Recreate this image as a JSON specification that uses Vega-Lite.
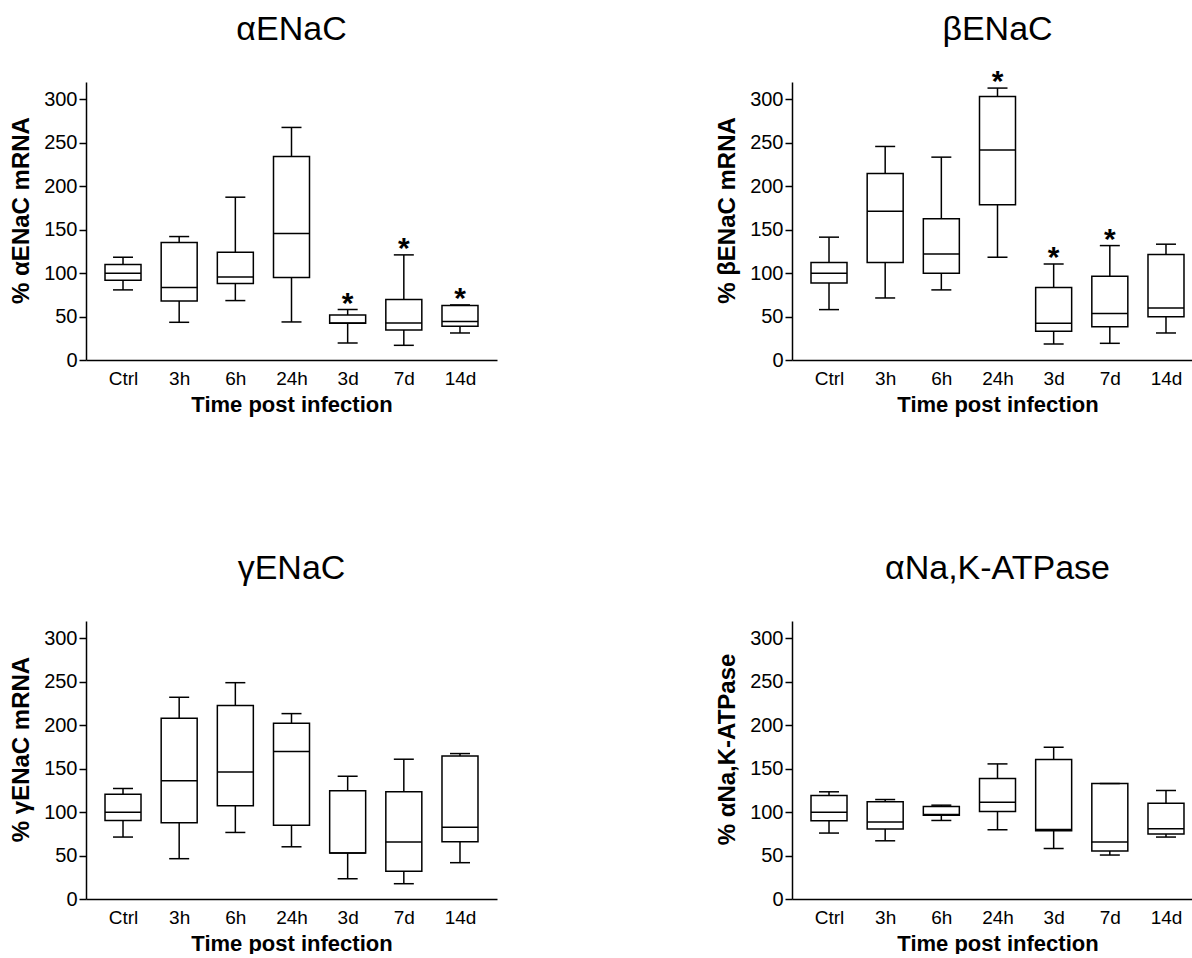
{
  "$schema": "https://vega.github.io/schema/vega-lite/v6.json",
  "padding": {"left": 9, "top": 13, "right": 0, "bottom": 0},
  "background": "white",
  "data": {"values": [
    {"panel": "a", "time": "Ctrl", "min": 80.7, "q1": 91.8, "median": 99.9, "q3": 109.9, "max": 118.3, "sig": ""},
    {"panel": "a", "time": "3h", "min": 43.4, "q1": 68.0, "median": 83.4, "q3": 135.2, "max": 142.1, "sig": ""},
    {"panel": "a", "time": "6h", "min": 68.4, "q1": 88.0, "median": 95.6, "q3": 124.1, "max": 187.4, "sig": ""},
    {"panel": "a", "time": "24h", "min": 43.8, "q1": 94.9, "median": 145.6, "q3": 234.3, "max": 267.7, "sig": ""},
    {"panel": "a", "time": "3d", "min": 19.6, "q1": 42.3, "median": 42.6, "q3": 51.9, "max": 58.0, "sig": "*"},
    {"panel": "a", "time": "7d", "min": 16.9, "q1": 34.6, "median": 42.6, "q3": 69.5, "max": 121.0, "sig": "*"},
    {"panel": "a", "time": "14d", "min": 31.1, "q1": 38.8, "median": 44.2, "q3": 62.6, "max": 63.4, "sig": "*"},
    {"panel": "b", "time": "Ctrl", "min": 58.0, "q1": 88.7, "median": 99.9, "q3": 112.2, "max": 141.4, "sig": ""},
    {"panel": "b", "time": "3h", "min": 71.4, "q1": 112.2, "median": 171.3, "q3": 214.7, "max": 245.8, "sig": ""},
    {"panel": "b", "time": "6h", "min": 80.7, "q1": 99.9, "median": 122.1, "q3": 162.5, "max": 233.5, "sig": ""},
    {"panel": "b", "time": "24h", "min": 118.3, "q1": 178.6, "median": 241.6, "q3": 303.4, "max": 313.0, "sig": "*"},
    {"panel": "b", "time": "3d", "min": 18.4, "q1": 33.0, "median": 42.3, "q3": 83.4, "max": 110.6, "sig": "*"},
    {"panel": "b", "time": "7d", "min": 19.2, "q1": 38.4, "median": 53.4, "q3": 96.4, "max": 131.7, "sig": "*"},
    {"panel": "b", "time": "14d", "min": 31.1, "q1": 49.9, "median": 59.9, "q3": 121.4, "max": 133.3, "sig": ""},
    {"panel": "g", "time": "Ctrl", "min": 71.3, "q1": 90.4, "median": 100.0, "q3": 120.7, "max": 127.2, "sig": ""},
    {"panel": "g", "time": "3h", "min": 46.4, "q1": 87.7, "median": 136.0, "q3": 208.0, "max": 232.2, "sig": ""},
    {"panel": "g", "time": "6h", "min": 76.6, "q1": 107.3, "median": 146.3, "q3": 222.6, "max": 249.0, "sig": ""},
    {"panel": "g", "time": "24h", "min": 60.1, "q1": 85.0, "median": 169.7, "q3": 202.3, "max": 213.4, "sig": ""},
    {"panel": "g", "time": "3d", "min": 23.4, "q1": 52.9, "median": 52.9, "q3": 124.5, "max": 141.4, "sig": ""},
    {"panel": "g", "time": "7d", "min": 17.6, "q1": 31.8, "median": 65.5, "q3": 123.4, "max": 160.9, "sig": ""},
    {"panel": "g", "time": "14d", "min": 41.8, "q1": 65.9, "median": 82.7, "q3": 164.7, "max": 167.4, "sig": ""},
    {"panel": "n", "time": "Ctrl", "min": 75.9, "q1": 90.0, "median": 100.0, "q3": 119.1, "max": 123.4, "sig": ""},
    {"panel": "n", "time": "3h", "min": 67.0, "q1": 80.5, "median": 88.5, "q3": 111.9, "max": 114.5, "sig": ""},
    {"panel": "n", "time": "6h", "min": 90.4, "q1": 96.5, "median": 97.3, "q3": 106.5, "max": 108.0, "sig": ""},
    {"panel": "n", "time": "24h", "min": 79.7, "q1": 100.8, "median": 111.5, "q3": 138.7, "max": 155.5, "sig": ""},
    {"panel": "n", "time": "3d", "min": 58.2, "q1": 78.5, "median": 80.1, "q3": 160.5, "max": 174.7, "sig": ""},
    {"panel": "n", "time": "7d", "min": 50.6, "q1": 55.2, "median": 65.5, "q3": 132.9, "max": 132.9, "sig": ""},
    {"panel": "n", "time": "14d", "min": 71.3, "q1": 74.7, "median": 80.8, "q3": 110.3, "max": 124.9, "sig": ""}
  ]},
  "columns": 2,
  "spacing": {"column": 218, "row": 137},
  "concat": [
    {
      "width": 411, "height": 278,
      "title": {"text": "αENaC"},
      "transform": [{"filter": "datum.panel === 'a'"}],
      "encoding": {"x": {"field": "time", "type": "nominal", "sort": ["Ctrl", "3h", "6h", "24h", "3d", "7d", "14d"], "scale": {"type": "point", "padding": 0.659}, "title": "Time post infection"}},
      "layer": [
        {"mark": {"type": "rule", "color": "black", "strokeWidth": 1.5}, "encoding": {"y": {"field": "min", "type": "quantitative", "scale": {"domain": [0, 320], "nice": false}, "axis": {"values": [0, 50, 100, 150, 200, 250, 300]}, "title": "% αENaC mRNA"}, "y2": {"field": "max"}}},
        {"mark": {"type": "bar", "size": 36, "fill": "white", "stroke": "black", "strokeWidth": 1.5}, "encoding": {"y": {"field": "q1", "type": "quantitative", "title": "% αENaC mRNA"}, "y2": {"field": "q3"}}},
        {"mark": {"type": "tick", "size": 36, "thickness": 1.5, "color": "black", "opacity": 1}, "encoding": {"y": {"field": "median", "type": "quantitative", "title": "% αENaC mRNA"}}},
        {"mark": {"type": "tick", "size": 20, "thickness": 1.5, "color": "black", "opacity": 1}, "encoding": {"y": {"field": "min", "type": "quantitative", "title": "% αENaC mRNA"}}},
        {"mark": {"type": "tick", "size": 20, "thickness": 1.5, "color": "black", "opacity": 1}, "encoding": {"y": {"field": "max", "type": "quantitative", "title": "% αENaC mRNA"}}},
        {"mark": {"type": "text", "fontSize": 30, "fontWeight": "bold", "baseline": "alphabetic", "dy": 3, "color": "black", "font": "Liberation Sans"}, "encoding": {"y": {"field": "max", "type": "quantitative", "title": "% αENaC mRNA"}, "text": {"field": "sig"}}}
      ]
    },
    {
      "width": 411, "height": 278,
      "title": {"text": "βENaC", "offset": 20},
      "transform": [{"filter": "datum.panel === 'b'"}],
      "encoding": {"x": {"field": "time", "type": "nominal", "sort": ["Ctrl", "3h", "6h", "24h", "3d", "7d", "14d"], "scale": {"type": "point", "padding": 0.659}, "title": "Time post infection"}},
      "layer": [
        {"mark": {"type": "rule", "color": "black", "strokeWidth": 1.5}, "encoding": {"y": {"field": "min", "type": "quantitative", "scale": {"domain": [0, 320], "nice": false}, "axis": {"values": [0, 50, 100, 150, 200, 250, 300]}, "title": "% βENaC mRNA"}, "y2": {"field": "max"}}},
        {"mark": {"type": "bar", "size": 36, "fill": "white", "stroke": "black", "strokeWidth": 1.5}, "encoding": {"y": {"field": "q1", "type": "quantitative", "title": "% βENaC mRNA"}, "y2": {"field": "q3"}}},
        {"mark": {"type": "tick", "size": 36, "thickness": 1.5, "color": "black", "opacity": 1}, "encoding": {"y": {"field": "median", "type": "quantitative", "title": "% βENaC mRNA"}}},
        {"mark": {"type": "tick", "size": 20, "thickness": 1.5, "color": "black", "opacity": 1}, "encoding": {"y": {"field": "min", "type": "quantitative", "title": "% βENaC mRNA"}}},
        {"mark": {"type": "tick", "size": 20, "thickness": 1.5, "color": "black", "opacity": 1}, "encoding": {"y": {"field": "max", "type": "quantitative", "title": "% βENaC mRNA"}}},
        {"mark": {"type": "text", "fontSize": 30, "fontWeight": "bold", "baseline": "alphabetic", "dy": 3, "color": "black", "font": "Liberation Sans"}, "encoding": {"y": {"field": "max", "type": "quantitative", "title": "% βENaC mRNA"}, "text": {"field": "sig"}}}
      ]
    },
    {
      "width": 411, "height": 278,
      "title": {"text": "γENaC"},
      "transform": [{"filter": "datum.panel === 'g'"}],
      "encoding": {"x": {"field": "time", "type": "nominal", "sort": ["Ctrl", "3h", "6h", "24h", "3d", "7d", "14d"], "scale": {"type": "point", "padding": 0.659}, "title": "Time post infection"}},
      "layer": [
        {"mark": {"type": "rule", "color": "black", "strokeWidth": 1.5}, "encoding": {"y": {"field": "min", "type": "quantitative", "scale": {"domain": [0, 320], "nice": false}, "axis": {"values": [0, 50, 100, 150, 200, 250, 300]}, "title": "% γENaC mRNA"}, "y2": {"field": "max"}}},
        {"mark": {"type": "bar", "size": 36, "fill": "white", "stroke": "black", "strokeWidth": 1.5}, "encoding": {"y": {"field": "q1", "type": "quantitative", "title": "% γENaC mRNA"}, "y2": {"field": "q3"}}},
        {"mark": {"type": "tick", "size": 36, "thickness": 1.5, "color": "black", "opacity": 1}, "encoding": {"y": {"field": "median", "type": "quantitative", "title": "% γENaC mRNA"}}},
        {"mark": {"type": "tick", "size": 20, "thickness": 1.5, "color": "black", "opacity": 1}, "encoding": {"y": {"field": "min", "type": "quantitative", "title": "% γENaC mRNA"}}},
        {"mark": {"type": "tick", "size": 20, "thickness": 1.5, "color": "black", "opacity": 1}, "encoding": {"y": {"field": "max", "type": "quantitative", "title": "% γENaC mRNA"}}}
      ]
    },
    {
      "width": 411, "height": 278,
      "title": {"text": "αNa,K-ATPase"},
      "transform": [{"filter": "datum.panel === 'n'"}],
      "encoding": {"x": {"field": "time", "type": "nominal", "sort": ["Ctrl", "3h", "6h", "24h", "3d", "7d", "14d"], "scale": {"type": "point", "padding": 0.659}, "title": "Time post infection"}},
      "layer": [
        {"mark": {"type": "rule", "color": "black", "strokeWidth": 1.5}, "encoding": {"y": {"field": "min", "type": "quantitative", "scale": {"domain": [0, 320], "nice": false}, "axis": {"values": [0, 50, 100, 150, 200, 250, 300]}, "title": "% αNa,K-ATPase"}, "y2": {"field": "max"}}},
        {"mark": {"type": "bar", "size": 36, "fill": "white", "stroke": "black", "strokeWidth": 1.5}, "encoding": {"y": {"field": "q1", "type": "quantitative", "title": "% αNa,K-ATPase"}, "y2": {"field": "q3"}}},
        {"mark": {"type": "tick", "size": 36, "thickness": 1.5, "color": "black", "opacity": 1}, "encoding": {"y": {"field": "median", "type": "quantitative", "title": "% αNa,K-ATPase"}}},
        {"mark": {"type": "tick", "size": 20, "thickness": 1.5, "color": "black", "opacity": 1}, "encoding": {"y": {"field": "min", "type": "quantitative", "title": "% αNa,K-ATPase"}}},
        {"mark": {"type": "tick", "size": 20, "thickness": 1.5, "color": "black", "opacity": 1}, "encoding": {"y": {"field": "max", "type": "quantitative", "title": "% αNa,K-ATPase"}}}
      ]
    }
  ],
  "config": {
    "font": "Liberation Sans",
    "view": {"stroke": null},
    "title": {"fontSize": 34, "fontWeight": "normal", "color": "black", "anchor": "middle", "frame": "group", "offset": 35, "font": "Liberation Sans"},
    "axis": {"grid": false, "domainColor": "black", "domainWidth": 1.5, "tickColor": "black", "tickWidth": 1.5, "labelColor": "black", "titleColor": "black", "labelFont": "Liberation Sans", "titleFont": "Liberation Sans", "labelFontSize": 19, "titleFontSize": 22, "titleFontWeight": "bold"},
    "axisY": {"tickSize": 7, "labelPadding": 2, "titlePadding": 10, "labelFontSize": 20, "titleFontSize": 24, "titleY": 128},
    "axisX": {"ticks": false, "labelAngle": 0, "labelPadding": 9, "titlePadding": 6}
  }
}
